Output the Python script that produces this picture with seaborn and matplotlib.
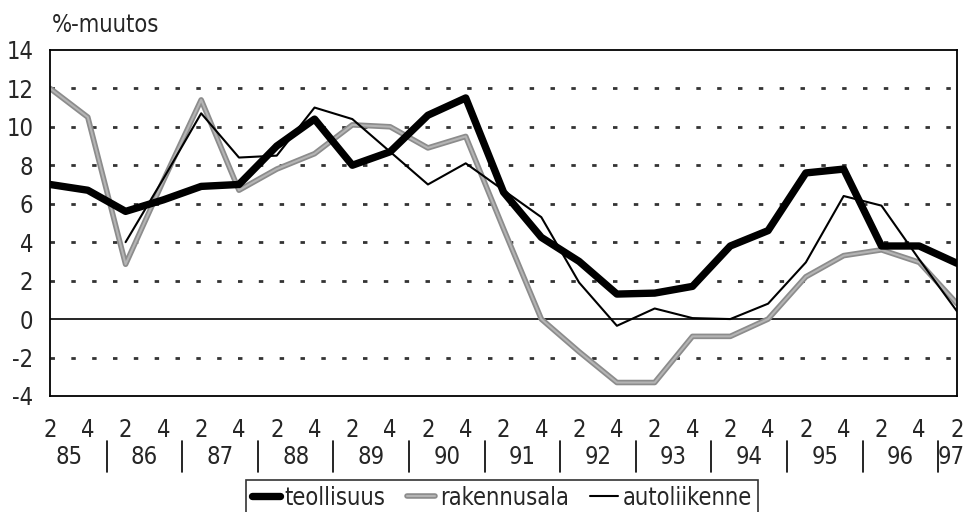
import matplotlib
matplotlib.use("Agg")
import matplotlib.pyplot as plt
import matplotlib.patheffects as pe
import matplotlib.transforms as mtransforms
import numpy as np
import pandas as pd
import seaborn as sns

# half-year observations, 85/2 ... 97/2
quarters = ["2", "4"] * 12 + ["2"]
years = ["85", "86", "87", "88", "89", "90", "91", "92", "93", "94", "95", "96", "97"]

teollisuus = [7.0, 6.7, 5.6, 6.2, 6.9, 7.0, 9.0, 10.4, 8.0, 8.7, 10.6, 11.5,
              6.6, 4.25, 3.0, 1.3, 1.35, 1.7, 3.8, 4.6, 7.6, 7.8, 3.8, 3.8, 2.9]
rakennusala = [12.0, 10.5, 2.85, 7.2, 11.4, 6.7, 7.8, 8.6, 10.1, 10.0, 8.9, 9.5,
               4.7, 0.0, -1.7, -3.3, -3.3, -0.9, -0.9, 0.0, 2.2, 3.3, 3.6, 2.95, 0.8]
autoliikenne = [np.nan, np.nan, 4.0, 7.3, 10.7, 8.4, 8.5, 11.0, 10.4, 8.7, 7.0, 8.1,
                6.7, 5.3, 1.9, -0.35, 0.55, 0.05, 0.0, 0.8, 2.95, 6.4, 5.9, 3.1, 0.4]

df = pd.DataFrame({"t": np.arange(len(quarters)),
                   "teollisuus": teollisuus,
                   "rakennusala": rakennusala,
                   "autoliikenne": autoliikenne})

sns.set_style("white")
plt.rcParams["font.family"] = ["DejaVu Sans"]
plt.rcParams["font.stretch"] = "condensed"
plt.rcParams["axes.unicode_minus"] = False

fig = plt.figure(figsize=(9.67, 5.12), dpi=100)
ax = fig.add_axes([0.0517, 0.2266, 0.938, 0.676])

# grid: short dashes, solid zero line
for v in [-2, 2, 4, 6, 8, 10, 12]:
    ax.axhline(v, color="#333333", lw=2, ls=(0, (1.6, 5.9)), zorder=0)
ax.axhline(0, color="black", lw=1.2, zorder=0)

sns.lineplot(data=df, x="t", y="rakennusala", ax=ax, color="#b4b4b4", lw=1.5,
             label="rakennusala", zorder=2,
             path_effects=[pe.Stroke(linewidth=4, foreground="#8c8c8c"), pe.Normal()])
sns.lineplot(data=df, x="t", y="autoliikenne", ax=ax, color="black", lw=1.5,
             label="autoliikenne", zorder=3)
sns.lineplot(data=df, x="t", y="teollisuus", ax=ax, color="black", lw=5.3,
             label="teollisuus", zorder=4)

ax.set_xlim(0, len(quarters) - 1)
ax.set_ylim(-4, 14)
ax.set_yticks(np.arange(-4, 15, 2))
ax.set_xticks(df["t"])
ax.set_xticklabels(quarters)
ax.set_xlabel("")
ax.set_ylabel("")
ax.tick_params(axis="x", direction="in", length=12, width=1.2, labelsize=17, pad=16, color="black")
ax.tick_params(axis="y", length=0, labelsize=17, pad=12)
for s in ax.spines.values():
    s.set_color("black")
    s.set_linewidth(1.3)

# year row and separators below the quarter labels
trans = mtransforms.blended_transform_factory(ax.transData, ax.transAxes)
for i, yr in enumerate(years):
    xpos = 2 * i + 0.5 if i < len(years) - 1 else 2 * i - 0.15
    ax.text(xpos, -0.175, yr, transform=trans, ha="center", va="center", fontsize=17)
    if i > 0:
        ax.plot([2 * i - 0.5] * 2, [-0.13, -0.22], transform=trans, color="black",
                lw=1.2, clip_on=False)

fig.text(0.054, 0.951, "%-muutos", ha="left", va="center", fontsize=17)

h, l = ax.get_legend_handles_labels()
order = [l.index("teollisuus"), l.index("rakennusala"), l.index("autoliikenne")]
ax.get_legend().remove()
leg = fig.legend([h[k] for k in order], [l[k] for k in order], ncol=3,
                 loc="lower center", bbox_to_anchor=(0.519, -0.03), frameon=True,
                 fancybox=False, edgecolor="black", fontsize=17, handlelength=1.2,
                 handletextpad=0.2, columnspacing=0.9, borderpad=0.25)
leg.get_frame().set_linewidth(1.2)

fig.savefig("out.png", dpi=100)
